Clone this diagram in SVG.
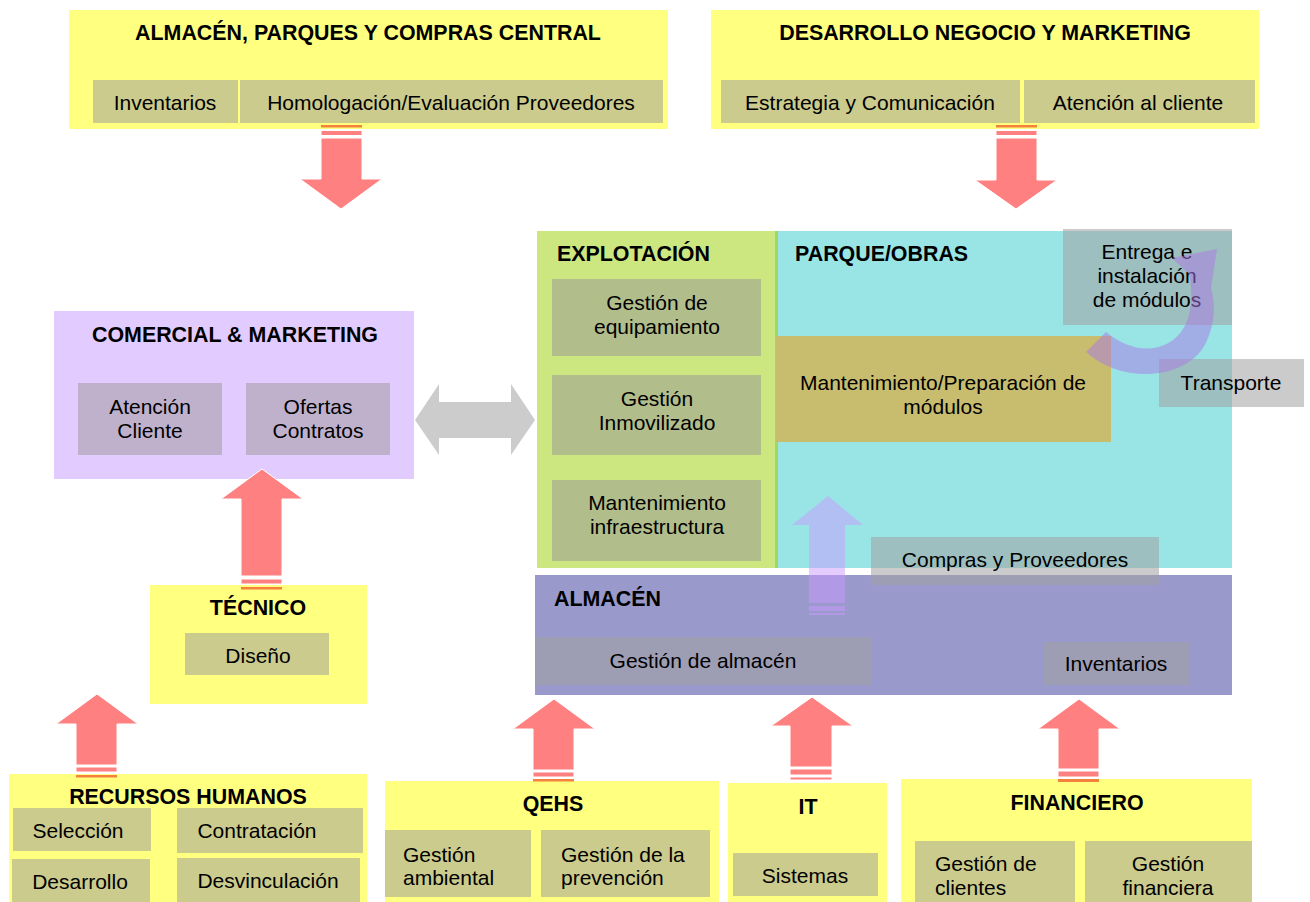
<svg xmlns="http://www.w3.org/2000/svg" width="1310" height="902" viewBox="0 0 1310 902">
<style>
text{font-family:"Liberation Sans",Arial,sans-serif;font-size:21px;fill:#000}
.t{font-weight:bold;font-size:21.4px}
.c{text-anchor:middle}
.y{fill:#ffff80}
.o{fill:#cbcb8d}
.g{fill:#a0a0a0;fill-opacity:0.55}
.pk{fill:#ff8080;stroke:#fff;stroke-width:1}
.or{fill:#f4823c}
.pu{fill:#cc99ff;fill-opacity:0.5}
</style>
<rect width="1310" height="902" fill="#fff"/>

<g id="almacen-central">
<rect class="y" x="69" y="10" width="599" height="119"/>
<rect class="o" x="93" y="80" width="145" height="43"/>
<rect class="o" x="240" y="80" width="423" height="43"/>
<text class="t c" x="368" y="40">ALMACÉN, PARQUES Y COMPRAS CENTRAL</text>
<text class="c" x="165" y="110">Inventarios</text>
<text class="c" x="451" y="110">Homologación/Evaluación Proveedores</text>
</g>

<g id="desarrollo">
<rect class="y" x="711" y="10" width="548" height="119"/>
<rect class="o" x="721" y="80" width="299" height="43"/>
<rect class="o" x="1024" y="80" width="231" height="43"/>
<text class="t c" x="985" y="40">DESARROLLO NEGOCIO Y MARKETING</text>
<text class="c" x="870" y="110">Estrategia y Comunicación</text>
<text class="c" x="1138" y="110">Atención al cliente</text>
</g>

<g id="comercial">
<rect x="54" y="311" width="360" height="168" fill="#e2ccff"/>
<rect x="78" y="383" width="144" height="72" fill="#bfb1cc"/>
<rect x="246" y="383" width="144" height="72" fill="#bfb1cc"/>
<text class="t c" x="235" y="342">COMERCIAL &amp; MARKETING</text>
<text class="c" x="150" y="414">Atención</text>
<text class="c" x="150" y="438">Cliente</text>
<text class="c" x="318" y="414">Ofertas</text>
<text class="c" x="318" y="438">Contratos</text>
</g>

<g id="tecnico">
<rect class="y" x="150" y="585" width="217" height="119"/>
<rect class="o" x="185" y="633" width="144" height="42"/>
<text class="t c" x="258" y="615">TÉCNICO</text>
<text class="c" x="258" y="663">Diseño</text>
</g>

<g id="explotacion">
<rect x="537" y="231" width="240" height="337" fill="#cce680"/>
<rect x="552" y="279" width="209" height="77" fill="#b2bd8c"/>
<rect x="552" y="375" width="209" height="80" fill="#b2bd8c"/>
<rect x="552" y="480" width="209" height="81" fill="#b2bd8c"/>
<text class="t" x="557" y="261">EXPLOTACIÓN</text>
<text class="c" x="657" y="310">Gestión de</text>
<text class="c" x="657" y="334">equipamiento</text>
<text class="c" x="657" y="406">Gestión</text>
<text class="c" x="657" y="430">Inmovilizado</text>
<text class="c" x="657" y="510">Mantenimiento</text>
<text class="c" x="657" y="534">infraestructura</text>
</g>

<g id="parque">
<rect x="777" y="231" width="455" height="337" fill="#99e5e5"/>
<rect x="775" y="231" width="3" height="337" fill="#9fd862"/>
<text class="t" x="795" y="261">PARQUE/OBRAS</text>
</g>

<g id="mantenimiento">
<rect x="776" y="336" width="335" height="106" fill="#c8bd6e"/>
<text class="c" x="943" y="390">Mantenimiento/Preparación de</text>
<text class="c" x="943" y="414">módulos</text>
</g>

<g id="entrega">
<rect class="g" x="1063" y="229" width="169" height="96"/>
<text class="c" x="1147" y="259">Entrega e</text>
<text class="c" x="1147" y="283">instalación</text>
<text class="c" x="1147" y="307">de módulos</text>
</g>

<g id="transporte">
<rect class="g" x="1159" y="359" width="145" height="48"/>
<text class="c" x="1231" y="390">Transporte</text>
</g>

<g id="almacen">
<rect x="535" y="575" width="697" height="120" fill="#9999cc"/>
<text class="t" x="554" y="606">ALMACÉN</text>
</g>

<g id="gestion-almacen">
<rect class="g" x="535" y="637" width="336" height="48"/>
<text class="c" x="703" y="668">Gestión de almacén</text>
</g>

<g id="inventarios">
<rect class="g" x="1044" y="642" width="145" height="43"/>
<text class="c" x="1116" y="671">Inventarios</text>
</g>

<g id="compras">
<rect class="g" x="871" y="537" width="288" height="48"/>
<text class="c" x="1015" y="567">Compras y Proveedores</text>
</g>

<g id="rrhh">
<rect class="y" x="9" y="774" width="358" height="128"/>
<rect class="o" x="13" y="808" width="138" height="43"/>
<rect class="o" x="177" y="808" width="186" height="45"/>
<rect class="o" x="12" y="859" width="138" height="43"/>
<rect class="o" x="177" y="858" width="183" height="44"/>
<text class="t c" x="188" y="804">RECURSOS HUMANOS</text>
<text class="c" x="78" y="838">Selección</text>
<text class="c" x="257" y="838">Contratación</text>
<text class="c" x="80" y="889">Desarrollo</text>
<text class="c" x="268" y="888">Desvinculación</text>
</g>

<g id="qehs">
<rect class="y" x="385" y="781" width="334" height="121"/>
<rect class="o" x="385" y="830" width="146" height="67"/>
<rect class="o" x="541" y="830" width="169" height="67"/>
<text class="t c" x="553" y="811">QEHS</text>
<text x="403" y="862">Gestión</text>
<text x="403" y="885">ambiental</text>
<text x="561" y="862">Gestión de la</text>
<text x="561" y="885">prevención</text>
</g>

<g id="it">
<rect class="y" x="728" y="783" width="159" height="119"/>
<rect class="o" x="733" y="853" width="145" height="43"/>
<text class="t c" x="808" y="814">IT</text>
<text class="c" x="805" y="883">Sistemas</text>
</g>

<g id="financiero">
<rect class="y" x="901" y="779" width="351" height="123"/>
<rect class="o" x="915" y="841" width="160" height="61"/>
<rect class="o" x="1085" y="841" width="167" height="61"/>
<text class="t c" x="1077" y="810">FINANCIERO</text>
<text x="935" y="871">Gestión de</text>
<text x="935" y="895">clientes</text>
<text class="c" x="1168" y="871">Gestión</text>
<text class="c" x="1168" y="895">financiera</text>
</g>

<g id="connectors">
<rect class="or" x="321" y="125" width="41" height="2.5"/>
<rect class="pk" x="321" y="130.5" width="41" height="5"/>
<polygon class="pk" points="321,138 362,138 362,179 382,179 341,209 300,179 321,179"/>
<rect class="or" x="996" y="125" width="41" height="2.5"/>
<rect class="pk" x="996" y="130.5" width="41" height="5"/>
<polygon class="pk" points="996,138 1037,138 1037,180 1057,180 1016,209 975,180 996,180"/>
<polygon fill="#cccccc" points="415,420 439,384 439,402 511,402 511,384 535,420 511,455 511,438 439,438 439,455"/>
<polygon class="pk" points="241,576 282,576 282,499 303,499 262,469 221,499 241,499"/>
<rect class="pk" x="241" y="579" width="41" height="5"/>
<rect class="or" x="241" y="587" width="41" height="2.5"/>
<polygon class="pk" points="76,765 117,765 117,724 138,724 97,694 56,724 76,724"/>
<rect class="pk" x="76" y="767" width="41" height="5"/>
<rect class="or" x="76" y="775" width="41" height="2.5"/>
<polygon class="pk" points="533,770 574,770 574,729 595,729 554,699 513,729 533,729"/>
<rect class="pk" x="533" y="772" width="41" height="5"/>
<rect class="or" x="533" y="779" width="41" height="2.5"/>
<polygon class="pk" points="790,767 832,767 832,726 853,726 812,697 771,726 790,726"/>
<rect class="pk" x="790" y="769" width="42" height="6"/>
<rect class="pk" x="790" y="777" width="42" height="3"/>
<polygon class="pk" points="1058,769 1099,769 1099,729 1120,729 1079,699 1038,729 1058,729"/>
<rect class="pk" x="1058" y="771" width="41" height="6"/>
<rect class="or" x="1058" y="779" width="41" height="3"/>
<polygon class="pu" points="809,603 845,603 845,525 863,525 828,496 792,525 809,525"/>
<rect class="pu" x="809" y="606" width="36" height="5"/>
<rect class="pu" x="809" y="613" width="36" height="2"/>
<path fill="#aa78e6" fill-opacity="0.5" d="M1086,352 C1118,382 1180,382 1203,348 C1215,328 1216,305 1211,288 L1217,249 L1172,258 L1189,274 C1194,298 1191,318 1181,332 C1162,356 1130,352 1106,332 Z"/>
</g>
</svg>
